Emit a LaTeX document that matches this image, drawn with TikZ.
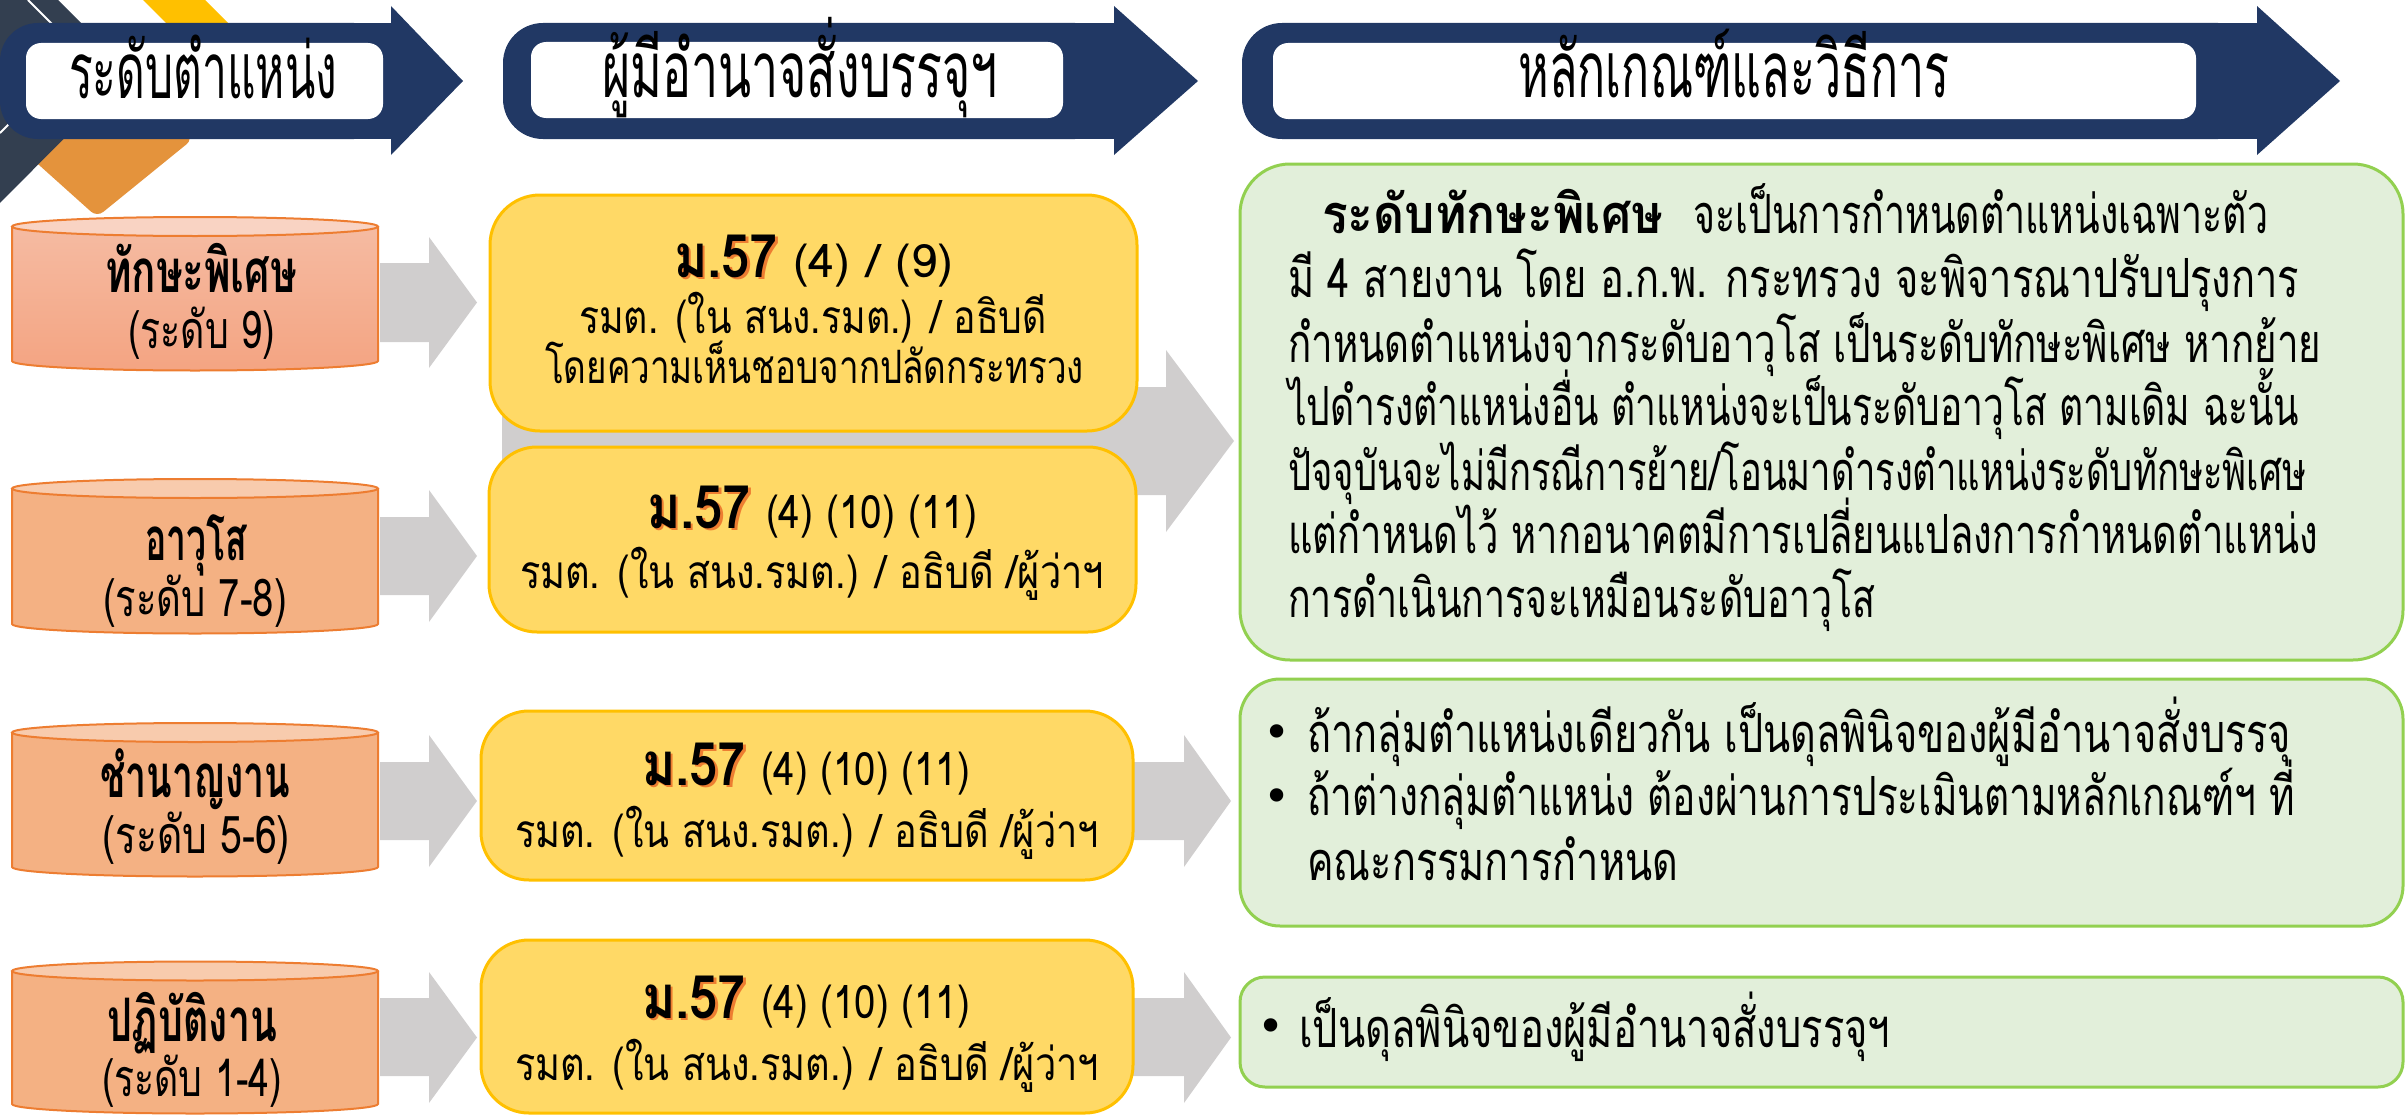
\documentclass[tikz,border=0pt]{standalone}
\usepackage{fontspec}
\usepackage{graphicx}
\setmainfont[Script=Thai]{Loma}
\newfontfamily\bulletfont{DejaVu Sans}
\definecolor{navy}{HTML}{213864}
\definecolor{slate}{HTML}{333F50}
\definecolor{decyellow}{HTML}{FFC000}
\definecolor{decorange}{HTML}{E4933C}
\definecolor{arrowgray}{HTML}{D0CECE}
\definecolor{cylline}{HTML}{ED7D31}
\definecolor{cylbody}{HTML}{F4B183}
\definecolor{cyltop}{HTML}{F8CBAD}
\definecolor{cylpinktop}{HTML}{F9D3C3}
\definecolor{cylpinkA}{HTML}{F5BBA2}
\definecolor{cylpinkB}{HTML}{F4A482}
\definecolor{boxyellow}{HTML}{FFD966}
\definecolor{boxyellowline}{HTML}{FFC000}
\definecolor{boxgreen}{HTML}{E2EFDA}
\definecolor{boxgreenline}{HTML}{92D050}
\definecolor{shadoworange}{HTML}{ED7D31}
% scale a text horizontally to a given width (in pt)
\newlength\fitlen
\newcommand\fitto[2]{\settowidth\fitlen{#2}\pgfmathsetmacro\fitr{#1/\fitlen}\scalebox{\fitr}[1]{#2}}
\newcommand\mfs{\bgroup\bfseries\fontsize{60}{60}\selectfont\rlap{\kern3pt\raisebox{-2pt}{\textcolor{shadoworange}{ม.57}}}ม.57\egroup}
\newcommand\mline[2]{\fitto{104}{\mfs}\hspace{15pt}\fitto{#1}{#2}}
\tikzset{
  hdrtext/.style={anchor=base, inner sep=0pt, font=\fontsize{78}{80}\selectfont},
  cylname/.style={anchor=base, inner sep=0pt, text height=44pt, text depth=6pt, font=\bfseries\fontsize{60}{62}\selectfont},
  cyllevel/.style={anchor=base, inner sep=0pt, text height=40pt, text depth=8pt, font=\fontsize{52}{54}\selectfont},
  ytext/.style={anchor=base, inner sep=0pt, font=\fontsize{46}{48}\selectfont},
  gtext/.style={anchor=base west, inner sep=0pt, font=\fontsize{54}{56}\selectfont},
  bulletmark/.style={inner sep=0pt, font=\bulletfont\fontsize{46}{46}\selectfont},
  ybox/.style={fill=boxyellow, draw=boxyellowline, line width=3pt},
  gbox/.style={fill=boxgreen, draw=boxgreenline, line width=3pt},
  garrow/.style={fill=arrowgray},
  cyl/.style={draw=cylline, line width=2pt},
  hdr/.style={fill=navy},
}
\begin{document}
\begin{tikzpicture}[x=1pt,y=-1pt]
\useasboundingbox (0,0) rectangle (2407,1116);
% background decoration
\fill[decyellow] (143,0) -- (205,0) -- (245,40) -- (183,40) -- cycle;
\fill[decorange, rounded corners=8pt] (97,217) -- (193,139) -- (105,45) -- (0,130) -- cycle;
\fill[slate] (0,0) -- (58,0) -- (130,72) -- (0,203) -- cycle;
\draw[white, line width=2pt] (28,0) -- (80,52);
\draw[white, line width=2pt] (0,133) -- (40,93);
% header arrows
\fill[hdr, rounded corners=38pt] (0,23) rectangle (392,139);
\fill[hdr] (340,23) rectangle (392,139);
\fill[hdr] (391,23) -- (391,6) -- (463,81) -- (391,155) -- (391,139) -- cycle;
\fill[white, rounded corners=15pt] (26,43) rectangle (383,119);
\node[hdrtext] (h1) at (203,98) {\fitto{268}{ระดับตำแหน่ง}};
\fill[hdr, rounded corners=40pt] (503,23) rectangle (1115,139);
\fill[hdr] (1060,23) rectangle (1115,139);
\fill[hdr] (1114,23) -- (1114,6) -- (1198,81) -- (1114,155) -- (1114,139) -- cycle;
\fill[white, rounded corners=15pt] (531,42) rectangle (1063,118);
\node[hdrtext] (h2) at (800,97) {\fitto{396}{ผู้มีอำนาจสั่งบรรจุฯ}};
\fill[hdr, rounded corners=40pt] (1242,23) rectangle (2258,139);
\fill[hdr] (2200,23) rectangle (2258,139);
\fill[hdr] (2257,23) -- (2257,6) -- (2340,81) -- (2257,155) -- (2257,139) -- cycle;
\fill[white, rounded corners=15pt] (1273,43) rectangle (2196,119);
\node[hdrtext] (h3) at (1734,97) {\fitto{431}{หลักเกณฑ์และวิธีการ}};
% gray block arrows
\fill[garrow] (380,263) -- (429,263) -- (429,237) -- (477,302.5) -- (429,368) -- (429,342) -- (380,342) -- cycle;
\fill[garrow] (380,517) -- (429,517) -- (429,490) -- (477,556) -- (429,622) -- (429,595) -- (380,595) -- cycle;
\fill[garrow] (380,762) -- (429,762) -- (429,735) -- (477,801) -- (429,867) -- (429,840) -- (380,840) -- cycle;
\fill[garrow] (380,998) -- (429,998) -- (429,972) -- (477,1037.5) -- (429,1103) -- (429,1076) -- (380,1076) -- cycle;
\fill[garrow] (502,387) -- (1166,387) -- (1166,350) -- (1234,441) -- (1166,532) -- (1166,495) -- (502,495) -- cycle;
\fill[garrow] (1120,762) -- (1184,762) -- (1184,735) -- (1231,801) -- (1184,867) -- (1184,840) -- (1120,840) -- cycle;
\fill[garrow] (1120,998) -- (1184,998) -- (1184,972) -- (1231,1037.5) -- (1184,1103) -- (1184,1076) -- (1120,1076) -- cycle;
% cylinders
\shade[top color=cylpinkA, bottom color=cylpinkB] (12,226.5) -- (12,361) arc[start angle=180,end angle=360,x radius=183pt,y radius=9.5pt] -- (378,226.5) -- cycle;
\draw[cyl] (12,226.5) -- (12,361) arc[start angle=180,end angle=360,x radius=183pt,y radius=9.5pt] -- (378,226.5);
\filldraw[cyl, fill=cylpinktop] (195,226.5) ellipse [x radius=183pt, y radius=9.5pt];
\node[cylname] (c1) at (201,292) {\fitto{192}{ทักษะพิเศษ}};
\node[cyllevel] (c1l) at (201.5,348) {\fitto{147}{(ระดับ 9)}};
\filldraw[cyl, fill=cylbody] (12,488.5) -- (12,624) arc[start angle=180,end angle=360,x radius=183pt,y radius=9.5pt] -- (378,488.5);
\filldraw[cyl, fill=cyltop] (195,488.5) ellipse [x radius=183pt, y radius=9.5pt];
\node[cylname] (c2) at (196,560) {\fitto{102}{อาวุโส}};
\node[cyllevel] (c2l) at (195,616) {\fitto{184}{(ระดับ 7-8)}};
\filldraw[cyl, fill=cylbody] (12,732.5) -- (12,867) arc[start angle=180,end angle=360,x radius=183pt,y radius=9.5pt] -- (378,732.5);
\filldraw[cyl, fill=cyltop] (195,732.5) ellipse [x radius=183pt, y radius=9.5pt];
\node[cylname] (c3) at (195,797) {\fitto{190}{ชำนาญงาน}};
\node[cyllevel] (c3l) at (196,853) {\fitto{188}{(ระดับ 5-6)}};
\filldraw[cyl, fill=cylbody] (12,971) -- (12,1104) arc[start angle=180,end angle=360,x radius=183pt,y radius=9.5pt] -- (378,971);
\filldraw[cyl, fill=cyltop] (195,971) ellipse [x radius=183pt, y radius=9.5pt];
\node[cylname] (c4) at (192,1041) {\fitto{170}{ปฏิบัติงาน}};
\node[cyllevel] (c4l) at (192,1096) {\fitto{180}{(ระดับ 1-4)}};
% yellow boxes
\draw[ybox, rounded corners=50pt] (490,195) rectangle (1137,431);
\node[ytext] (y1a) at (813.5,277) {\mline{160}{(4) / (9)}};
\node[ytext] (y1b) at (813,333) {\fitto{468}{รมต. (ใน สนง.รมต.) / อธิบดี}};
\node[ytext] (y1c) at (814.5,383) {\fitto{539}{โดยความเห็นชอบจากปลัดกระทรวง}};
\draw[ybox, rounded corners=48pt] (489,447) rectangle (1136,632);
\node[ytext] (y2a) at (812,528) {\mline{211}{(4) (10) (11)}};
\node[ytext] (y2b) at (812,588) {\fitto{584}{รมต. (ใน สนง.รมต.) / อธิบดี /ผู้ว่าฯ}};
\draw[ybox, rounded corners=48pt] (481,711) rectangle (1133,880);
\node[ytext] (y3a) at (806,785) {\mline{209}{(4) (10) (11)}};
\node[ytext] (y3b) at (807,847) {\fitto{584}{รมต. (ใน สนง.รมต.) / อธิบดี /ผู้ว่าฯ}};
\draw[ybox, rounded corners=48pt] (481,940) rectangle (1133,1113);
\node[ytext] (y4a) at (806,1018) {\mline{209}{(4) (10) (11)}};
\node[ytext] (y4b) at (807,1080) {\fitto{584}{รมต. (ใน สนง.รมต.) / อธิบดี /ผู้ว่าฯ}};
% green boxes
\draw[gbox, rounded corners=50pt] (1240,164) rectangle (2403,660);
\node[gtext] (g1a) at (1322,233) {\fitto{341}{\bfseries ระดับทักษะพิเศษ}\hspace{30pt}\fitto{575}{จะเป็นการกำหนดตำแหน่งเฉพาะตัว}};
\node[gtext] (g1b) at (1288,297) {\fitto{1011}{มี 4 สายงาน โดย อ.ก.พ. กระทรวง จะพิจารณาปรับปรุงการ}};
\node[gtext] (g1c) at (1288,362) {\fitto{1033}{กำหนดตำแหน่งจากระดับอาวุโส เป็นระดับทักษะพิเศษ หากย้าย}};
\node[gtext] (g1d) at (1288,425) {\fitto{1011}{ไปดำรงตำแหน่งอื่น ตำแหน่งจะเป็นระดับอาวุโส ตามเดิม ฉะนั้น}};
\node[gtext] (g1e) at (1288,490) {\fitto{1018}{ปัจจุบันจะไม่มีกรณีการย้าย/โอนมาดำรงตำแหน่งระดับทักษะพิเศษ}};
\node[gtext] (g1f) at (1288,553) {\fitto{1030}{แต่กำหนดไว้ หากอนาคตมีการเปลี่ยนแปลงการกำหนดตำแหน่ง}};
\node[gtext] (g1g) at (1288,617) {\fitto{587}{การดำเนินการจะเหมือนระดับอาวุโส}};
\draw[gbox, rounded corners=40pt] (1240,679) rectangle (2403,926);
\node[bulletmark] (b2a) at (1277,737) {•};
\node[gtext] (g2a) at (1307,752) {\fitto{984}{ถ้ากลุ่มตำแหน่งเดียวกัน เป็นดุลพินิจของผู้มีอำนาจสั่งบรรจุ}};
\node[bulletmark] (b2b) at (1277,801) {•};
\node[gtext] (g2b) at (1307,815) {\fitto{988}{ถ้าต่างกลุ่มตำแหน่ง ต้องผ่านการประเมินตามหลักเกณฑ์ฯ ที่}};
\node[gtext] (g2c) at (1307,880) {\fitto{371}{คณะกรรมการกำหนด}};
\draw[gbox, rounded corners=25pt] (1240,977) rectangle (2403,1087);
\node[bulletmark] (b3a) at (1271,1031) {•};
\node[gtext] (g3a) at (1299,1047) {\fitto{591}{เป็นดุลพินิจของผู้มีอำนาจสั่งบรรจุฯ}};
\end{tikzpicture}
\end{document}
